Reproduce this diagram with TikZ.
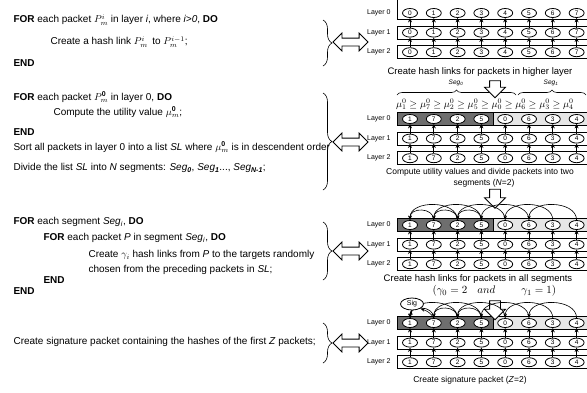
\documentclass[tikz,border=0pt]{standalone}
\usepackage{fontspec}
\setmainfont{Liberation Sans}
\usetikzlibrary{shapes.geometric,shapes.arrows,decorations.pathreplacing,arrows.meta}
\definecolor{segdark}{HTML}{6E6E6E}
\definecolor{seglight}{HTML}{E6E6E6}
\tikzset{
  pkt/.style={ellipse,draw,line width=0.8pt,fill=white,minimum width=15pt,minimum height=9pt,inner sep=0pt,font=\fontsize{6.5}{6.5}\selectfont},
  layerbox/.style={draw,line width=0.8pt},
  hlink/.style={line width=1pt,-{Stealth[length=4.5pt,width=4pt]}},
  arclink/.style={line width=0.6pt,-{Stealth[length=4.5pt,width=3.5pt]}},
  laylab/.style={anchor=east,font=\fontsize{7}{7}\selectfont},
  caption/.style={font=\fontsize{9.5}{9.5}\selectfont},
  algo/.style={anchor=west,font=\fontsize{10}{10}\selectfont},
  downarrow/.style={single arrow,draw,line width=0.8pt,fill=white,rotate=-90,inner sep=5pt,single arrow head extend=5pt},
  bothways/.style={double arrow,draw,line width=0.8pt,fill=white,minimum height=35pt,inner sep=3.5pt,double arrow head extend=5pt},
  rbrace/.style={decorate,decoration={brace,amplitude=9pt},line width=0.6pt}
}
\begin{document}
\begin{tikzpicture}[x=1pt,y=-1pt]
\useasboundingbox (0,0) rectangle (587,392);
\clip (0,0) rectangle (587,392);
% algorithm
\node[algo] (algo1) at (10,20) {\textbf{FOR} each packet $P_m^i$ in layer \textit{i}, where \textit{i>0}, \textbf{DO}};
\node[algo] (algo2) at (47,42) {Create a hash link $P_m^i$\, to $P_m^{i-1}$;};
\node[algo] (algo3) at (10,63) {\textbf{END}};
\node[algo] (algo4) at (10,97) {\textbf{FOR} each packet $P_m^{\mathbf{0}}$ in layer 0, \textbf{DO}};
\node[algo] (algo5) at (50,112) {Compute the utility value $\mu_m^{\mathbf{0}}$;};
\node[algo] (algo6) at (10,132) {\textbf{END}};
\node[algo] (algo7) at (10,147) {Sort all packets in layer 0 into a list \textit{SL} where $\mu_m^{\mathbf{0}}$ is in descendent order};
\node[algo] (algo8) at (10,168) {Divide the list \textit{SL} into \textit{N} segments: \textit{Seg}\textsubscript{\textbf{\textit{0}}}, \textit{Seg}\textsubscript{\textbf{\textit{1}}}..., \textit{Seg}\textsubscript{\textbf{\textit{N-1}}};};
\node[algo] (algo9) at (10,222) {\textbf{FOR} each segment \textit{Seg}\textsubscript{\textit{i}}, \textbf{DO}};
\node[algo] (algo10) at (40,238) {\textbf{FOR} each packet \textit{P} in segment \textit{Seg}\textsubscript{\textit{i}}, \textbf{DO}};
\node[algo] (algo11) at (85,255) {Create $\gamma_i$ hash links from \textit{P} to the targets randomly};
\node[algo] (algo12) at (85,270) {chosen from the preceding packets in \textit{SL};};
\node[algo] (algo13) at (40,280) {\textbf{END}};
\node[algo] (algo14) at (10,291) {\textbf{END}};
\node[algo] (algo15) at (10,342) {Create signature packet containing the hashes of the first \textit{Z} packets;};
% braces and double arrows
\draw[rbrace] (323,20) -- (323,66);
\draw[rbrace] (323,93) -- (323,190);
\draw[rbrace] (323,222) -- (323,280);
\draw[rbrace] (323,323) -- (323,363);
\node[bothways] (bwA) at (350.5,42) {};
\node[bothways] (bwB) at (350.5,142) {};
\node[bothways] (bwC) at (350.5,251) {};
\node[bothways] (bwD) at (350.5,343) {};
% layer boxes
\draw[layerbox] (397,0) |- (600,19.5);
\foreach \y in {32.6,52.2,138.6,158.2,244.6,264.2,342.6,362.2}
  \draw[layerbox] (397,\y-6.5) rectangle (600,\y+6.5);
\foreach \y in {119,225,323}{
  \fill[segdark] (397,\y-6.5) rectangle (493,\y+6.5);
  \fill[seglight] (493,\y-6.5) rectangle (600,\y+6.5);
  \draw[layerbox] (397,\y-6.5) rectangle (600,\y+6.5);
  \draw[layerbox] (493,\y-6.5) -- (493,\y+6.5);
}
% packets
\foreach \p/\y in {a/13,b/119,c/225,d/323}
  \foreach \l in {0,1,2}
    \node[laylab] (lab-\p-\l) at (394,\y+19.6*\l) {Layer \l};
\foreach \l in {0,1,2}
  \foreach \k in {0,...,7}
    \node[pkt] (a-\l-\k) at (410+23.8*\k,13+19.6*\l) {\k};
\foreach \p/\y in {b/119,c/225,d/323}
  \foreach \l in {0,1,2}
    \foreach \n [count=\k from 0] in {1,7,2,5,0,6,3,4}
      \node[pkt] (\p-\l-\k) at (410+23.8*\k,\y+19.6*\l) {\n};
\foreach \p in {a,b,c,d}
  \foreach \k in {0,...,7}{
    \draw[hlink] (\p-2-\k) -- (\p-1-\k);
    \draw[hlink] (\p-1-\k) -- (\p-0-\k);
  }
% captions
\node[caption] (capA) at (480,72) {Create hash links for packets in higher layer};
\node[font=\fontsize{6.5}{6.5}\selectfont\itshape] (seg0) at (456,83) {Seg\textsubscript{0}};
\node[font=\fontsize{6.5}{6.5}\selectfont\itshape] (seg1) at (551,83) {Seg\textsubscript{1}};
\draw[rbrace,decoration={amplitude=5pt}] (397,95) -- (516,95);
\draw[rbrace,decoration={amplitude=5pt}] (518,95) -- (586,95);
\node[anchor=west,font=\fontsize{9.8}{9.8}\selectfont,inner sep=0pt] (mus) at (396,104.5) {$\mu_1^0 \ge \mu_7^0 \ge \mu_2^0 \ge \mu_5^0 \ge \mu_0^0 \ge \mu_6^0 \ge \mu_3^0 \ge \mu_4^0$};
\node[font=\fontsize{8.5}{8.5}\selectfont] (capB1) at (480,172) {Compute utility values and divide packets into two};
\node[font=\fontsize{8.5}{8.5}\selectfont] (capB2) at (484,183) {segments (\textit{N}=2)};
\node[caption] (capC) at (478,279) {Create hash links for packets in all segments};
\node[anchor=west,font=\fontsize{11}{11}\selectfont] (gam) at (429,291) {$(\gamma_0 = 2\hspace{10pt} and\hspace{26pt} \gamma_1 = 1)$};
\node[font=\fontsize{8.5}{8.5}\selectfont] (capD) at (470,380) {Create signature packet (\textit{Z}=2)};
% step arrows
\node[downarrow,minimum height=17pt] (dnA) at (495,86.5) {};
\node[downarrow,minimum height=19pt] (dnB) at (495,196) {};
\node[downarrow,minimum height=19pt] (dnC) at (495,307.5) {};
% links between segments
\foreach \p in {c,d}
  \foreach \s/\t/\lo in {1/0/1.4,2/0/1.1,2/1/1.4,3/1/1.1,3/2/1.4,4/2/1.1,5/3/1.1,6/4/1.1,7/5/1.1}
    \draw[arclink] (\p-0-\s.north) to[out=90,in=90,looseness=\lo] (\p-0-\t.north);
\node[pkt,minimum width=23pt,minimum height=12pt,font=\fontsize{7}{7}\selectfont] (sig) at (412,304) {Sig};
\draw[arclink] (d-0-0) -- (sig);
\draw[arclink] (d-0-1.north) to[out=120,in=-20] (sig.south east);
\end{tikzpicture}
\end{document}
